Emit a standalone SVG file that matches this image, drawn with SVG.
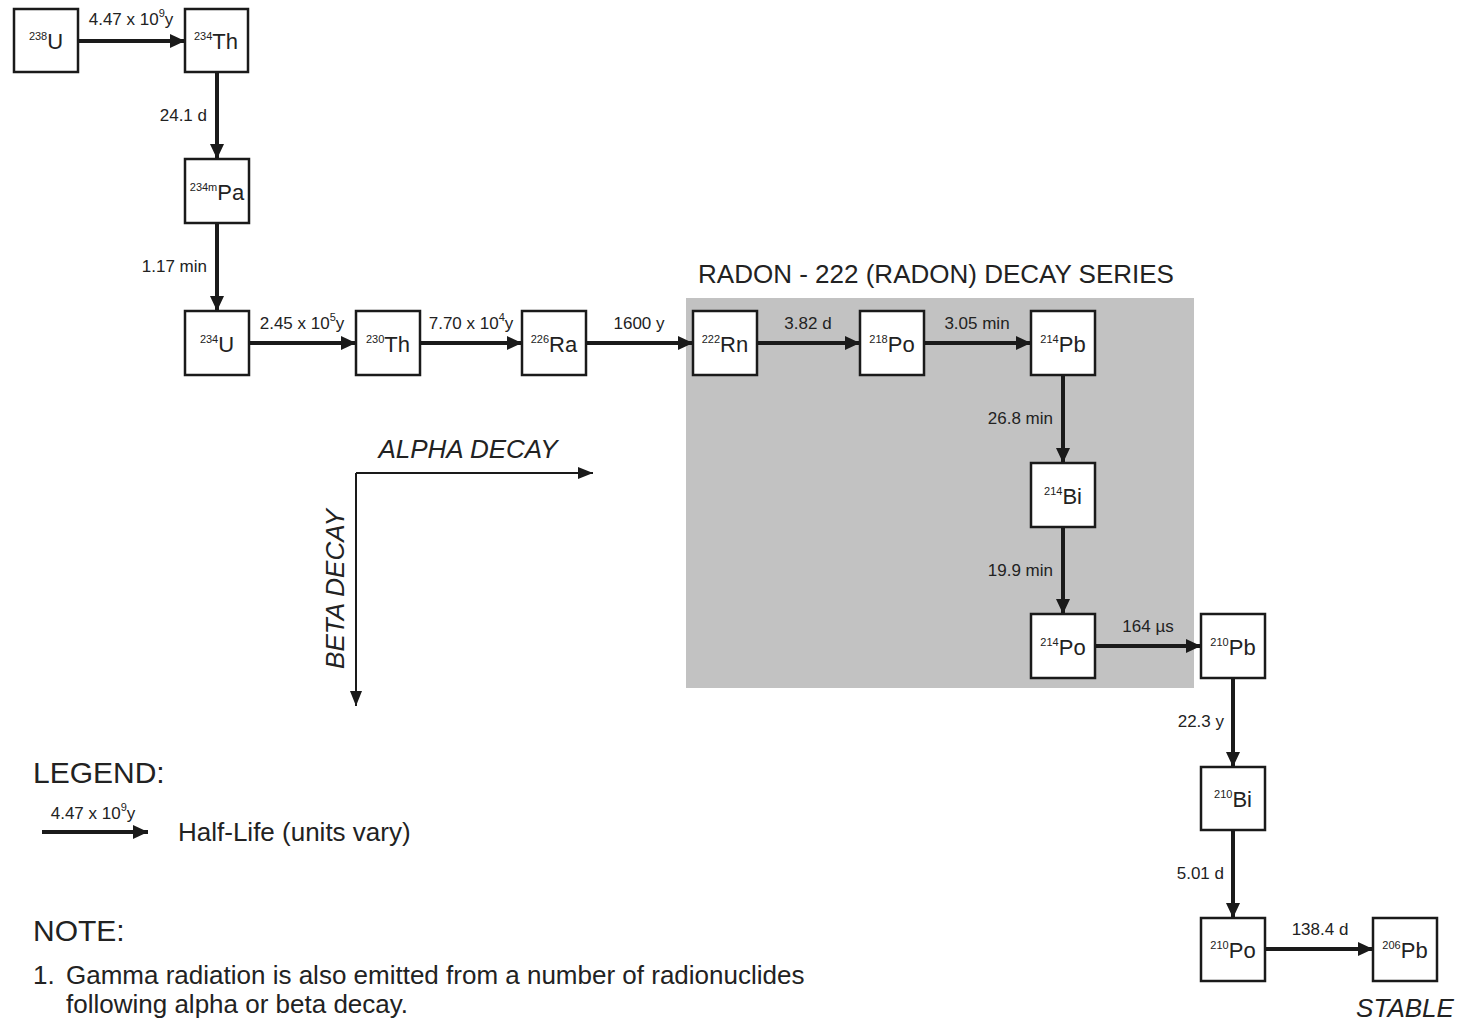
<svg xmlns="http://www.w3.org/2000/svg" width="1459" height="1021" viewBox="0 0 1459 1021">
<defs>
<marker id="ah" markerUnits="userSpaceOnUse" markerWidth="16" markerHeight="14" refX="15" refY="7" orient="auto">
<path d="M0,0 L15,7 L0,14 Z" fill="#1a1a1a"/>
</marker>
<marker id="ah2" markerUnits="userSpaceOnUse" markerWidth="16" markerHeight="14" refX="15" refY="6" orient="auto">
<path d="M0,0 L15,6 L0,12 Z" fill="#1a1a1a"/>
</marker>
</defs>
<style>
text{font-family:"Liberation Sans",Arial,sans-serif;fill:#222}
.box{fill:#fff;stroke:#1a1a1a;stroke-width:2.5}
.sup{font-size:11px}
.el{font-size:22px}
.lbl{font-size:17px}
.conn line{stroke:#1a1a1a;stroke-width:4;marker-end:url(#ah)}
.axis{stroke:#1a1a1a;stroke-width:2;marker-end:url(#ah2);fill:none}
</style>
<rect x="686" y="298" width="508" height="390" fill="#c2c2c2"/>
<text x="936" y="283" font-size="26" text-anchor="middle">RADON - 222 (RADON) DECAY SERIES</text>

<g class="conn">
<line x1="78" y1="41" x2="185" y2="41"/>
<line x1="217" y1="72" x2="217" y2="159"/>
<line x1="217" y1="223" x2="217" y2="311"/>
<line x1="249" y1="343" x2="356" y2="343"/>
<line x1="420" y1="343" x2="522" y2="343"/>
<line x1="586" y1="343" x2="693" y2="343"/>
<line x1="757" y1="343" x2="860" y2="343"/>
<line x1="924" y1="343" x2="1031" y2="343"/>
<line x1="1063" y1="375" x2="1063" y2="463"/>
<line x1="1063" y1="527" x2="1063" y2="614"/>
<line x1="1095" y1="646" x2="1201" y2="646"/>
<line x1="1233" y1="678" x2="1233" y2="767"/>
<line x1="1233" y1="830" x2="1233" y2="918"/>
<line x1="1265" y1="949" x2="1373" y2="949"/>
<line x1="42" y1="832" x2="148" y2="832"/>
</g>

<g class="lbls">
<text class="lbl" x="131" y="25" text-anchor="middle">4.47 x 10<tspan font-size="11" dy="-8">9</tspan><tspan dy="8">y</tspan></text>
<text class="lbl" x="207" y="121" text-anchor="end">24.1 d</text>
<text class="lbl" x="207" y="272" text-anchor="end">1.17 min</text>
<text class="lbl" x="302" y="329" text-anchor="middle">2.45 x 10<tspan font-size="11" dy="-8">5</tspan><tspan dy="8">y</tspan></text>
<text class="lbl" x="471" y="329" text-anchor="middle">7.70 x 10<tspan font-size="11" dy="-8">4</tspan><tspan dy="8">y</tspan></text>
<text class="lbl" x="639" y="329" text-anchor="middle">1600 y</text>
<text class="lbl" x="808" y="329" text-anchor="middle">3.82 d</text>
<text class="lbl" x="977" y="329" text-anchor="middle">3.05 min</text>
<text class="lbl" x="1053" y="424" text-anchor="end">26.8 min</text>
<text class="lbl" x="1053" y="576" text-anchor="end">19.9 min</text>
<text class="lbl" x="1148" y="632" text-anchor="middle">164 µs</text>
<text class="lbl" x="1224" y="727" text-anchor="end">22.3 y</text>
<text class="lbl" x="1224" y="879" text-anchor="end">5.01 d</text>
<text class="lbl" x="1320" y="935" text-anchor="middle">138.4 d</text>
<text class="lbl" x="93" y="819" text-anchor="middle">4.47 x 10<tspan font-size="11" dy="-8">9</tspan><tspan dy="8">y</tspan></text>
</g>

<g id="n238U"><rect class="box" x="14" y="9" width="64" height="63"/><text x="46" y="49" text-anchor="middle"><tspan class="sup" dy="-9">238</tspan><tspan class="el" dy="9">U</tspan></text></g>
<g id="n234Th"><rect class="box" x="185" y="9" width="63" height="63"/><text x="216" y="49" text-anchor="middle"><tspan class="sup" dy="-9">234</tspan><tspan class="el" dy="9">Th</tspan></text></g>
<g id="n234mPa"><rect class="box" x="185" y="159" width="64" height="64"/><text x="217" y="200" text-anchor="middle"><tspan class="sup" dy="-9">234m</tspan><tspan class="el" dy="9">Pa</tspan></text></g>
<g id="n234U"><rect class="box" x="185" y="311" width="64" height="64"/><text x="217" y="352" text-anchor="middle"><tspan class="sup" dy="-9">234</tspan><tspan class="el" dy="9">U</tspan></text></g>
<g id="n230Th"><rect class="box" x="356" y="311" width="64" height="64"/><text x="388" y="352" text-anchor="middle"><tspan class="sup" dy="-9">230</tspan><tspan class="el" dy="9">Th</tspan></text></g>
<g id="n226Ra"><rect class="box" x="522" y="311" width="64" height="64"/><text x="554" y="352" text-anchor="middle"><tspan class="sup" dy="-9">226</tspan><tspan class="el" dy="9">Ra</tspan></text></g>
<g id="n222Rn"><rect class="box" x="693" y="311" width="64" height="64"/><text x="725" y="352" text-anchor="middle"><tspan class="sup" dy="-9">222</tspan><tspan class="el" dy="9">Rn</tspan></text></g>
<g id="n218Po"><rect class="box" x="860" y="311" width="64" height="64"/><text x="892" y="352" text-anchor="middle"><tspan class="sup" dy="-9">218</tspan><tspan class="el" dy="9">Po</tspan></text></g>
<g id="n214Pb"><rect class="box" x="1031" y="311" width="64" height="64"/><text x="1063" y="352" text-anchor="middle"><tspan class="sup" dy="-9">214</tspan><tspan class="el" dy="9">Pb</tspan></text></g>
<g id="n214Bi"><rect class="box" x="1031" y="463" width="64" height="64"/><text x="1063" y="504" text-anchor="middle"><tspan class="sup" dy="-9">214</tspan><tspan class="el" dy="9">Bi</tspan></text></g>
<g id="n214Po"><rect class="box" x="1031" y="614" width="64" height="64"/><text x="1063" y="655" text-anchor="middle"><tspan class="sup" dy="-9">214</tspan><tspan class="el" dy="9">Po</tspan></text></g>
<g id="n210Pb"><rect class="box" x="1201" y="614" width="64" height="64"/><text x="1233" y="655" text-anchor="middle"><tspan class="sup" dy="-9">210</tspan><tspan class="el" dy="9">Pb</tspan></text></g>
<g id="n210Bi"><rect class="box" x="1201" y="767" width="64" height="63"/><text x="1233" y="807" text-anchor="middle"><tspan class="sup" dy="-9">210</tspan><tspan class="el" dy="9">Bi</tspan></text></g>
<g id="n210Po"><rect class="box" x="1201" y="918" width="64" height="63"/><text x="1233" y="958" text-anchor="middle"><tspan class="sup" dy="-9">210</tspan><tspan class="el" dy="9">Po</tspan></text></g>
<g id="n206Pb"><rect class="box" x="1373" y="918" width="64" height="63"/><text x="1405" y="958" text-anchor="middle"><tspan class="sup" dy="-9">206</tspan><tspan class="el" dy="9">Pb</tspan></text></g>

<g id="axes">
<path class="axis" d="M356,473 L593,473"/>
<line class="axis" x1="356" y1="473" x2="356" y2="706"/>
<text x="468" y="458" font-size="26" font-style="italic" text-anchor="middle">ALPHA DECAY</text>
<text transform="translate(344,589) rotate(-90)" font-size="26" font-style="italic" text-anchor="middle">BETA DECAY</text>
</g>

<text x="1405" y="1017" font-size="26" font-style="italic" text-anchor="middle">STABLE</text>

<g id="legend">
<text x="33" y="783" font-size="30">LEGEND:</text>
<text x="178" y="841" font-size="26">Half-Life (units vary)</text>
<text x="33" y="941" font-size="30">NOTE:</text>
<text x="33" y="984" font-size="26">1.<tspan x="66">Gamma radiation is also emitted from a number of radionuclides</tspan></text>
<text x="66" y="1013" font-size="26">following alpha or beta decay.</text>
</g>
</svg>
